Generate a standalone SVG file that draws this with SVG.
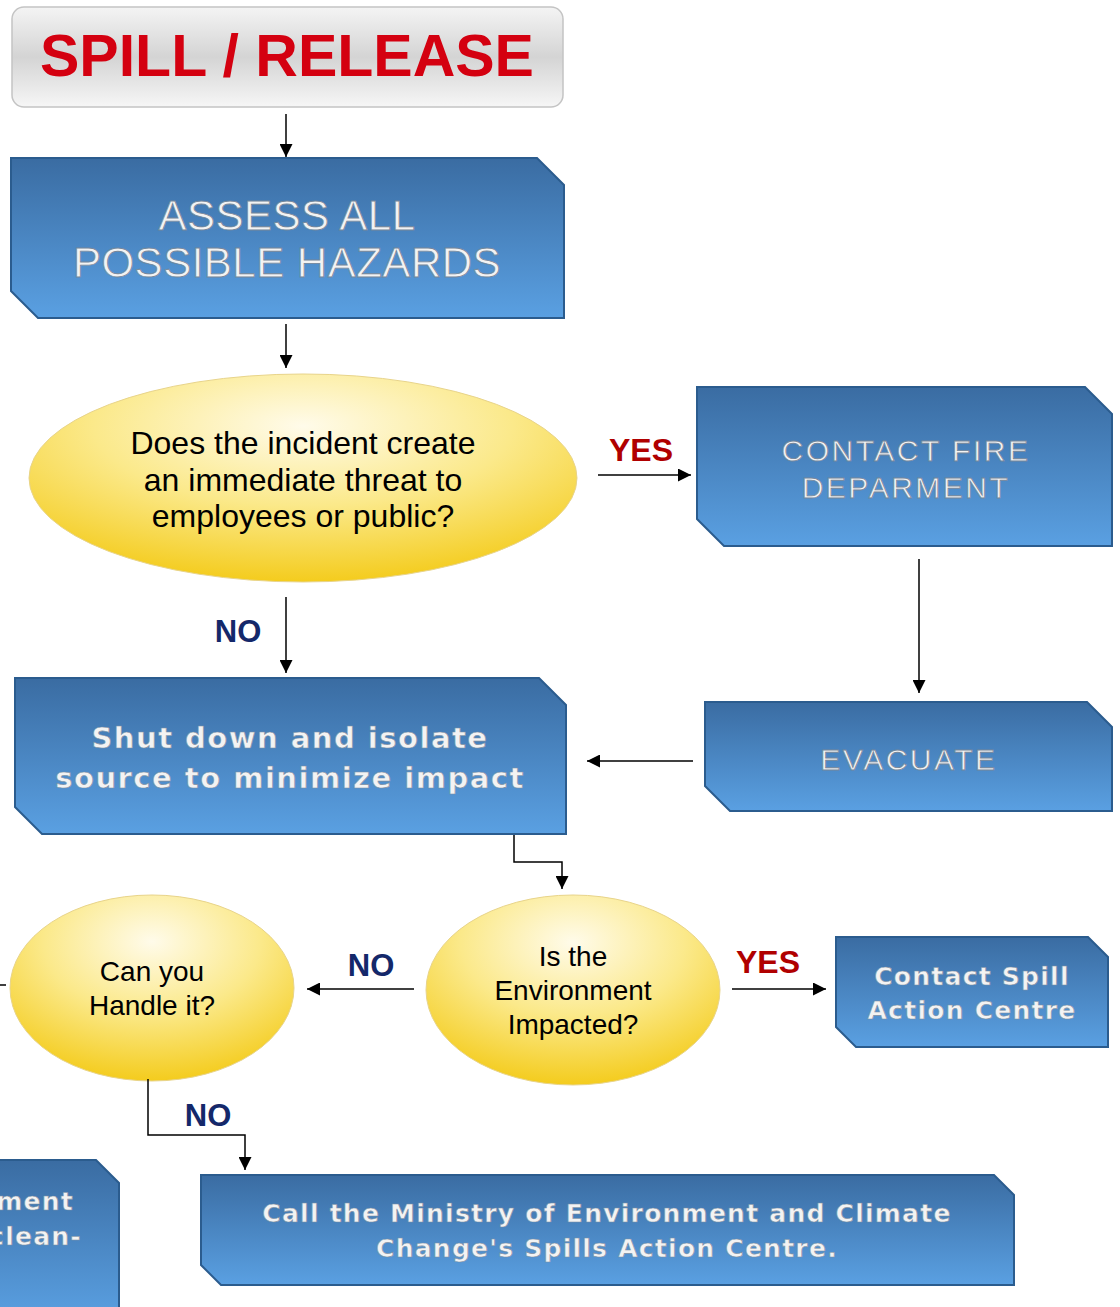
<svg xmlns="http://www.w3.org/2000/svg" width="1120" height="1307" viewBox="0 0 1120 1307">
<defs>
  <linearGradient id="blue" x1="0" y1="0" x2="0" y2="1">
    <stop offset="0" stop-color="#3a6ca2"/>
    <stop offset="1" stop-color="#5aa0e2"/>
  </linearGradient>
  <linearGradient id="gray" x1="0" y1="0" x2="0" y2="1">
    <stop offset="0" stop-color="#f4f4f4"/>
    <stop offset="0.5" stop-color="#d4d4d4"/>
    <stop offset="1" stop-color="#f6f6f6"/>
  </linearGradient>
  <radialGradient id="yellow" cx="0.5" cy="0.25" r="0.85">
    <stop offset="0" stop-color="#fffbea"/>
    <stop offset="0.45" stop-color="#fbe98a"/>
    <stop offset="1" stop-color="#f2c400"/>
  </radialGradient>
  <marker id="ah" viewBox="0 0 10 10" refX="10" refY="5" markerWidth="13" markerHeight="13" markerUnits="userSpaceOnUse" orient="auto">
    <path d="M0,0 L10,5 L0,10 Z" fill="#000"/>
  </marker>
  <style>
    .box { fill: url(#blue); stroke: #2b5c8e; stroke-width: 2; }
    .ell { fill: url(#yellow); stroke: #e8d48a; stroke-width: 1; }
    .bt { font-family: "Liberation Sans", Arial, sans-serif; font-size: 30px; fill: #f3f3f3; stroke: #75879b; stroke-width: 0.8; text-anchor: middle; letter-spacing: 2.5px; }
    .bt-lg { font-size: 42px; letter-spacing: 0.5px; }
    .vt { font-family: "DejaVu Sans", Verdana, sans-serif; font-weight: bold; font-size: 25px; fill: #f3f3f3; stroke: #7d8fa3; stroke-width: 0.6; text-anchor: middle; letter-spacing: 1.25px; }
    .vt-lg { font-size: 29px; letter-spacing: 1.5px; }
    .et { font-family: "Liberation Sans", Arial, sans-serif; font-size: 28px; fill: #000; text-anchor: middle; }
    .et-lg { font-size: 32px; }
    .yes { font-family: "Liberation Sans", Arial, sans-serif; font-weight: bold; font-size: 32px; fill: #b00000; text-anchor: middle; }
    .no { font-family: "Liberation Sans", Arial, sans-serif; font-weight: bold; font-size: 31px; fill: #14286a; text-anchor: middle; }
    .con { fill: none; stroke: #000; stroke-width: 1.5; }
  </style>
</defs>

<g id="spill">
  <rect x="12" y="7" width="551" height="100" rx="12" fill="url(#gray)" stroke="#c4c4c4" stroke-width="1.5"/>
  <text x="287" y="76" font-family="Liberation Sans, Arial, sans-serif" font-weight="bold" font-size="59" fill="#d40010" text-anchor="middle">SPILL / RELEASE</text>
</g>

<g id="assess">
  <polygon class="box" points="11,158 537,158 564,185 564,318 38,318 11,291"/>
  <text class="bt bt-lg" x="287" y="230">ASSESS ALL</text>
  <text class="bt bt-lg" x="287" y="277">POSSIBLE HAZARDS</text>
</g>

<g id="threat">
  <ellipse class="ell" cx="303" cy="478" rx="274" ry="104"/>
  <text class="et et-lg" x="303" y="454">Does the incident create</text>
  <text class="et et-lg" x="303" y="491">an immediate threat to</text>
  <text class="et et-lg" x="303" y="527">employees or public?</text>
</g>

<g id="fire">
  <polygon class="box" points="697,387 1085,387 1112,414 1112,546 724,546 697,519"/>
  <text class="bt" x="906" y="461">CONTACT FIRE</text>
  <text class="bt" x="906" y="498">DEPARMENT</text>
</g>

<g id="evacuate">
  <polygon class="box" points="705,702 1087,702 1112,727 1112,811 730,811 705,786"/>
  <text class="bt" x="909" y="770">EVACUATE</text>
</g>

<g id="shutdown">
  <polygon class="box" points="15,678 539,678 566,705 566,834 42,834 15,807"/>
  <text class="vt vt-lg" x="290" y="748">Shut down and isolate</text>
  <text class="vt vt-lg" x="290" y="788">source to minimize impact</text>
</g>

<g id="environment">
  <ellipse class="ell" cx="573" cy="990" rx="147" ry="95"/>
  <text class="et" x="573" y="966">Is the</text>
  <text class="et" x="573" y="1000">Environment</text>
  <text class="et" x="573" y="1034">Impacted?</text>
</g>

<g id="spillcentre">
  <polygon class="box" points="836,937 1088,937 1108,957 1108,1047 856,1047 836,1027"/>
  <text class="vt" x="972" y="985">Contact Spill</text>
  <text class="vt" x="972" y="1019">Action Centre</text>
</g>

<g id="handle">
  <ellipse class="ell" cx="152" cy="988" rx="142" ry="93"/>
  <text class="et" x="152" y="981">Can you</text>
  <text class="et" x="152" y="1015">Handle it?</text>
</g>

<g id="ministry">
  <polygon class="box" points="201,1175 994,1175 1014,1195 1014,1285 221,1285 201,1265"/>
  <text class="vt" x="607" y="1222">Call the Ministry of Environment and Climate</text>
  <text class="vt" x="607" y="1257">Change's Spills Action Centre.</text>
</g>

<g id="leftbox">
  <polygon class="box" points="-20,1160 96,1160 119,1183 119,1320 -20,1320"/>
  <text class="vt" x="74" y="1210" style="text-anchor:end">ment</text>
  <text class="vt" x="82" y="1245" style="text-anchor:end">clean-</text>
</g>

<g id="labels">
  <text class="yes" x="641" y="461">YES</text>
  <text class="no" x="238" y="642">NO</text>
  <text class="yes" x="768" y="973">YES</text>
  <text class="no" x="371" y="976">NO</text>
  <text class="no" x="208" y="1126">NO</text>
</g>

<g id="connectors">
  <line class="con" x1="286" y1="114" x2="286" y2="157" marker-end="url(#ah)"/>
  <line class="con" x1="286" y1="324" x2="286" y2="368" marker-end="url(#ah)"/>
  <line class="con" x1="598" y1="475" x2="691" y2="475" marker-end="url(#ah)"/>
  <line class="con" x1="919" y1="559" x2="919" y2="693" marker-end="url(#ah)"/>
  <line class="con" x1="693" y1="761" x2="587" y2="761" marker-end="url(#ah)"/>
  <line class="con" x1="286" y1="597" x2="286" y2="673" marker-end="url(#ah)"/>
  <polyline class="con" points="514,835 514,862 562,862 562,889" marker-end="url(#ah)"/>
  <line class="con" x1="732" y1="989" x2="826" y2="989" marker-end="url(#ah)"/>
  <line class="con" x1="414" y1="989" x2="307" y2="989" marker-end="url(#ah)"/>
  <line class="con" x1="0" y1="985" x2="6" y2="985"/>
  <polyline class="con" points="148,1079 148,1135 245,1135 245,1170" marker-end="url(#ah)"/>
</g>
</svg>
